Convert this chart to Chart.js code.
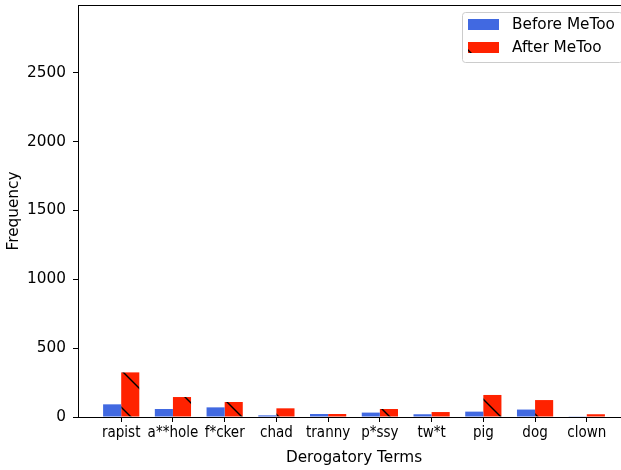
<!DOCTYPE html>
<html>
<head>
<meta charset="utf-8">
<script src="https://cdn.jsdelivr.net/npm/chart.js@4/dist/chart.umd.min.js"></script>
<style>
  html, body { margin: 0; padding: 0; background: #fff; overflow: hidden; }
  #wrap { width: 632px; height: 470px; }
</style>
</head>
<body>
<div id="wrap"><canvas id="chart" width="632" height="470"></canvas></div>
<script>
const categories = ["rapist", "a**hole", "f*cker", "chad", "tranny", "p*ssy", "tw*t", "pig", "dog", "clown"];
const beforeMeToo = [92, 58, 70, 12, 22, 32, 20, 39, 54, 5];
const afterMeToo = [324, 145, 109, 63, 22, 58, 36, 160, 123, 20];
const yTicks = [0, 500, 1000, 1500, 2000, 2500];
const seriesLabels = ["Before MeToo", "After MeToo"];

const BLUE = "#4169e1";
const RED = "#ff2200";
const FONT = "'DejaVu Sans', sans-serif";
const FONT_SIZE = 15.3;

// hatch "\" on the red bars, anchored to canvas origin
function makeHatch() {
  const size = 37;
  const tile = document.createElement("canvas");
  tile.width = size;
  tile.height = size;
  const c = tile.getContext("2d");
  c.fillStyle = RED;
  c.fillRect(0, 0, size, size);
  c.strokeStyle = "#000";
  c.lineWidth = 1.4;
  for (const k of [-1, 0, 1]) {
    const off = 27 + k * size;
    c.beginPath();
    c.moveTo(-5, -5 + off);
    c.lineTo(size + 5, size + 5 + off);
    c.stroke();
  }
  return document.getElementById("chart").getContext("2d").createPattern(tile, "repeat");
}

const hatch = makeHatch();

const framePlugin = {
  id: "frame",
  afterDatasetsDraw(chart) {
    const { ctx, chartArea: a } = chart;
    ctx.save();
    ctx.strokeStyle = "#000";
    ctx.lineWidth = 1;
    ctx.strokeRect(Math.round(a.left) + 0.5, Math.round(a.top) + 0.5,
      Math.round(a.right - a.left), Math.round(a.bottom - a.top));
    ctx.restore();
  },
  afterDraw(chart) {
    // matplotlib-style legend box in the upper right
    const { ctx } = chart;
    const x = 462, y = 12, w = 160, h = 50;
    ctx.save();
    ctx.fillStyle = "rgba(255,255,255,0.8)";
    ctx.strokeStyle = "#cccccc";
    ctx.lineWidth = 1;
    ctx.beginPath();
    ctx.roundRect(x + 0.5, y + 0.5, w, h, 3);
    ctx.fill();
    ctx.stroke();
    ctx.font = FONT_SIZE + "px " + FONT;
    ctx.textBaseline = "middle";
    seriesLabels.forEach((label, i) => {
      const sy = 19 + i * 23;
      ctx.fillStyle = i === 0 ? BLUE : RED;
      ctx.fillRect(468, sy, 31, 11);
      if (i === 1) {
        ctx.save();
        ctx.beginPath();
        ctx.rect(468, sy, 31, 11);
        ctx.clip();
        ctx.strokeStyle = "#000";
        ctx.lineWidth = 1.4;
        ctx.beginPath();
        ctx.moveTo(465, sy + 5);
        ctx.lineTo(475, sy + 15);
        ctx.stroke();
        ctx.restore();
      }
      ctx.fillStyle = "#000";
      ctx.fillText(label, 512, sy + 6);
    });
    ctx.restore();
  },
};

new Chart(document.getElementById("chart"), {
  type: "bar",
  data: {
    datasets: [
      {
        label: seriesLabels[0],
        data: beforeMeToo.map((v, i) => ({ x: i, y: v })),
        backgroundColor: BLUE,
        borderWidth: 0,
      },
      {
        label: seriesLabels[1],
        data: afterMeToo.map((v, i) => ({ x: i, y: v })),
        backgroundColor: hatch,
        borderWidth: 0,
      },
    ],
  },
  options: {
    responsive: false,
    animation: false,
    events: [],
    layout: { padding: { top: 5, right: 2, left: 0, bottom: 0 } },
    datasets: { bar: { barPercentage: 1.0, categoryPercentage: 0.7 } },
    plugins: { legend: { display: false }, tooltip: { enabled: false } },
    scales: {
      x: {
        type: "linear",
        offset: false,
        min: -0.835,
        max: 9.835,
        afterBuildTicks: (scale) => { scale.ticks = categories.map((_, i) => ({ value: i })); },
        afterFit: (scale) => {
          scale.height = 53;
          scale.paddingLeft = 0;
          scale.paddingRight = 0;
        },
        grid: { offset: false, drawOnChartArea: false, drawTicks: true, tickLength: 5, color: "#000" },
        border: { display: true, color: "#000" },
        ticks: {
          autoSkip: false,
          maxRotation: 0,
          padding: 2,
          color: "#000",
          font: { family: "'DejaVu Sans Condensed', 'DejaVu Sans', sans-serif", size: 15 },
          callback: (v) => categories[v],
        },
        title: {
          display: true,
          text: "Derogatory Terms",
          color: "#000",
          font: { family: FONT, size: FONT_SIZE },
          padding: { top: 0, bottom: 3 },
        },
      },
      y: {
        min: 0,
        max: 2992,
        afterBuildTicks: (scale) => { scale.ticks = yTicks.map((v) => ({ value: v })); },
        afterFit: (scale) => {
          scale.width = 78;
          scale.paddingTop = 0;
          scale.paddingBottom = 0;
        },
        grid: { drawOnChartArea: false, drawTicks: true, tickLength: 5, color: "#000" },
        border: { display: true, color: "#000" },
        ticks: {
          padding: 7,
          color: "#000",
          font: { family: FONT, size: FONT_SIZE },
          callback: (v) => String(v),
        },
        title: {
          display: true,
          text: "Frequency",
          color: "#000",
          font: { family: FONT, size: FONT_SIZE },
          padding: { top: 5, bottom: 0 },
        },
      },
    },
  },
  plugins: [framePlugin],
});
</script>
</body>
</html>
